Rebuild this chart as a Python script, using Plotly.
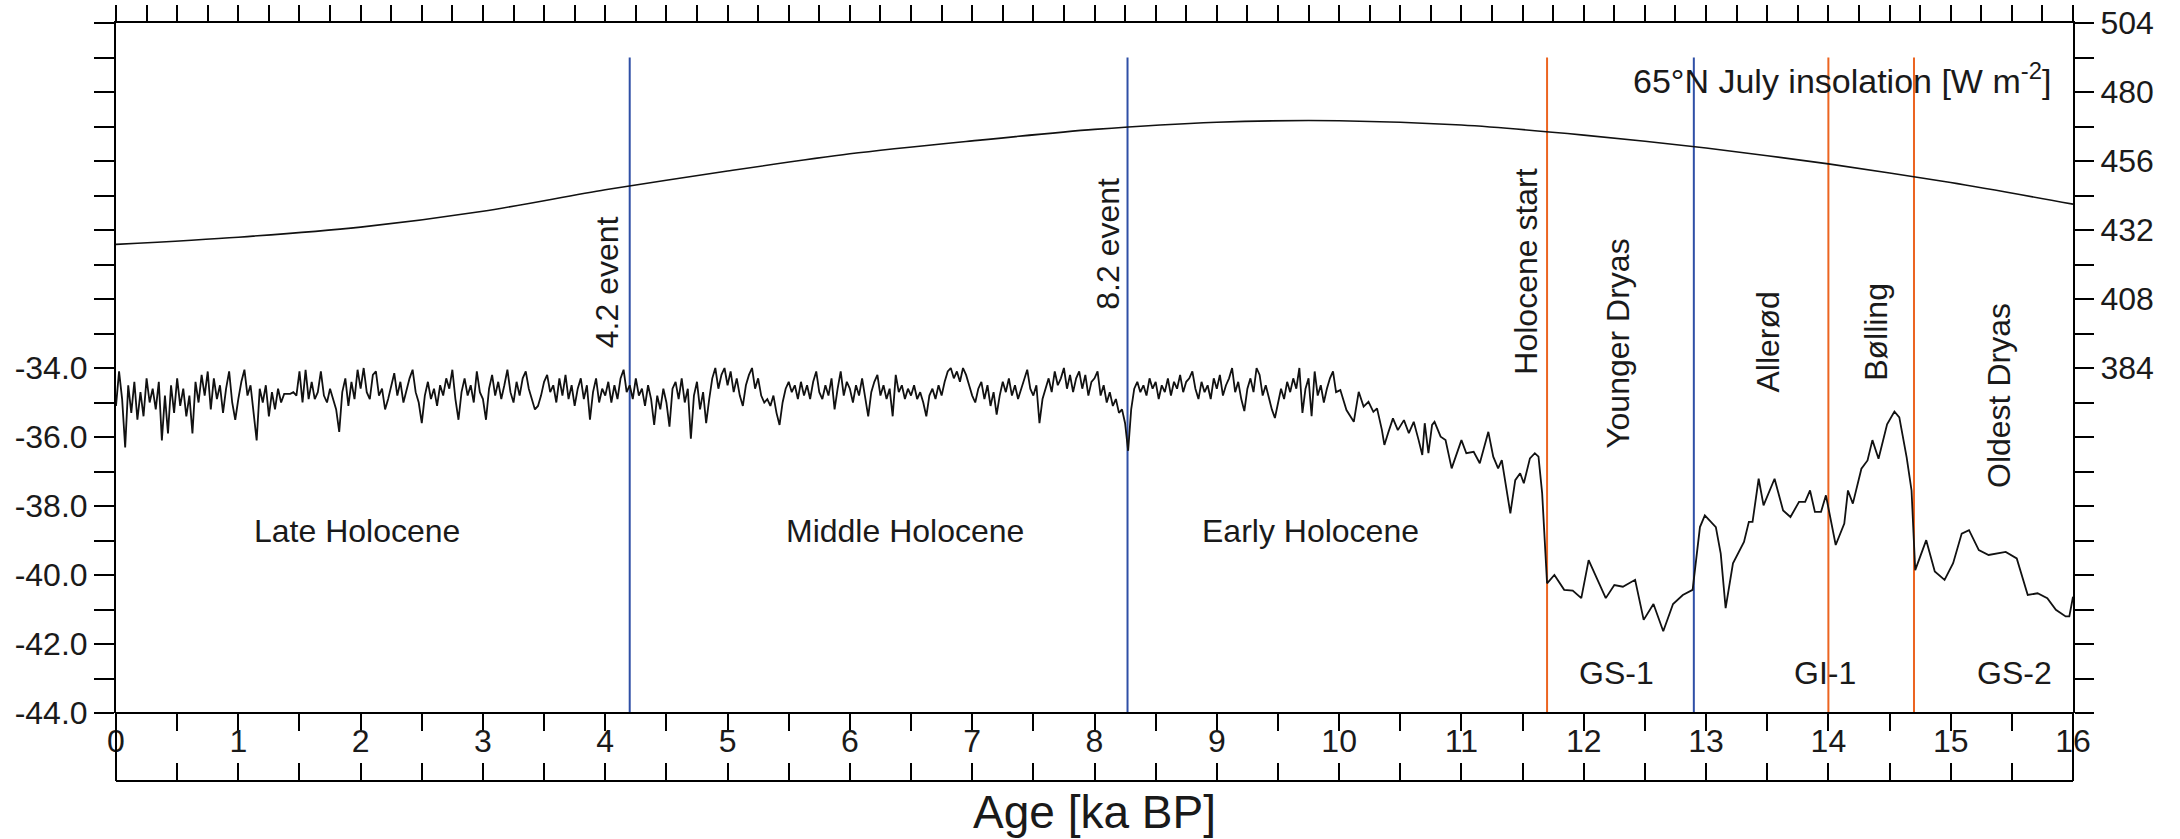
import plotly.graph_objects as go

# ---------------- data ----------------
# High-resolution Holocene d18O record, 0 - 9.975 ka BP, sampled every 25 years
HOLO_START = 0.0
HOLO_STEP = 0.025
holo_d18o = [
    # 0 - 1 ka
    -35.1, -34.1, -34.9, -36.3, -34.5, -35.3, -34.4, -35.5, -34.7, -35.4,
    -34.3, -35.0, -34.6, -35.2, -34.4, -36.1, -34.8, -35.9, -34.5, -35.3,
    -34.3, -35.1, -34.6, -35.4, -34.8, -35.9, -34.4, -35.0, -34.2, -34.8,
    -34.1, -35.2, -34.3, -34.9, -34.5, -35.3, -34.6, -34.1, -35.0, -35.5,
    # 1 - 2 ka
    -34.9, -34.4, -34.05, -34.8, -34.5, -35.3, -36.1, -34.6, -35.0, -34.5,
    -35.4, -34.7, -35.2, -34.6, -35.0, -34.75, -34.75, -34.75, -34.7, -34.8,
    -34.1, -35.0, -34.05, -34.9, -34.4, -34.9, -34.7, -34.1, -34.8, -35.0,
    -34.6, -34.9, -35.2, -35.85, -34.7, -34.3, -35.1, -34.4, -34.9, -34.05,
    # 2 - 3 ka
    -34.6, -34.0, -34.7, -34.9, -34.2, -34.1, -34.8, -34.6, -35.2, -34.9,
    -34.5, -34.15, -34.8, -34.4, -35.0, -34.6, -34.3, -34.05, -34.7, -35.0,
    -35.6, -34.8, -34.4, -34.9, -34.6, -35.1, -34.5, -34.8, -34.3, -34.6,
    -34.05, -34.9, -35.5, -34.7, -34.3, -34.8, -34.5, -35.0, -34.1, -34.7,
    # 3 - 4 ka
    -34.9, -35.5, -34.6, -34.2, -34.8, -34.4, -34.9, -34.5, -34.05, -34.7,
    -35.0, -34.4, -34.8, -34.3, -34.1, -34.6, -34.9, -35.2, -35.1, -34.8,
    -34.4, -34.2, -34.7, -34.5, -35.0, -34.3, -34.8, -34.2, -34.9, -34.5,
    -35.1, -34.6, -34.3, -34.9, -34.5, -35.5, -34.7, -34.3, -35.0, -34.6,
    # 4 - 5 ka
    -34.8, -34.4, -35.0, -34.5, -34.9, -34.3, -34.05, -34.7, -34.5, -34.9,
    -34.3, -34.8, -34.6, -35.1, -34.5, -34.9, -35.65, -34.8, -35.2, -34.6,
    -35.0, -35.7, -34.6, -34.4, -34.9, -34.3, -35.0, -34.6, -36.05, -34.8,
    -34.4, -35.2, -34.7, -35.6, -34.9, -34.3, -34.0, -34.6, -34.2, -34.0,
    # 5 - 6 ka
    -34.5, -34.1, -34.7, -34.3, -34.8, -35.1, -34.5, -34.2, -34.0, -34.6,
    -34.3, -34.8, -35.0, -34.9, -35.1, -34.8, -35.3, -35.65, -35.0, -34.6,
    -34.4, -34.7, -34.5, -34.9, -34.4, -34.8, -34.5, -34.9, -34.4, -34.1,
    -34.7, -34.9, -34.5, -34.8, -34.3, -35.2, -34.6, -34.1, -34.8, -34.4,
    # 6 - 7 ka
    -34.6, -35.0, -34.5, -34.8, -34.3, -34.9, -35.4, -34.7, -34.4, -34.2,
    -34.8, -34.5, -34.9, -34.6, -35.4, -34.2, -34.7, -34.5, -34.9, -34.6,
    -34.8, -34.5, -34.9, -34.7, -35.0, -35.4, -34.8, -34.6, -34.9, -34.5,
    -34.8, -34.4, -34.1, -34.0, -34.3, -34.1, -34.4, -34.0, -34.2, -34.5,
    # 7 - 8 ka
    -34.8, -35.0, -34.6, -34.4, -34.9, -34.5, -35.1, -34.7, -35.35, -34.8,
    -34.4, -34.7, -34.3, -34.8, -34.5, -34.9, -34.6, -34.3, -34.05, -34.6,
    -34.8, -34.5, -35.6, -34.9, -34.6, -34.3, -34.7, -34.1, -34.5, -34.3,
    -34.0, -34.6, -34.2, -34.7, -34.3, -34.1, -34.6, -34.2, -34.8, -34.4,
    # 8 - 9 ka
    -34.3, -34.1, -34.8, -34.5, -35.0, -34.7, -35.1, -34.9, -35.3, -35.2,
    -35.6, -36.4, -35.2, -34.6, -34.4, -34.7, -34.5, -34.8, -34.3, -34.6,
    -34.4, -34.9, -34.5, -34.7, -34.3, -34.8, -34.4, -34.6, -34.2, -34.7,
    -34.4, -34.3, -34.1, -34.6, -34.9, -34.4, -34.7, -34.5, -34.9, -34.3,
    # 9 - 10 ka
    -34.6, -34.2, -34.8, -34.5, -34.3, -34.0, -34.7, -34.4, -34.9, -35.25,
    -34.6, -34.3, -34.7, -34.0, -34.2, -34.8, -34.5, -34.9, -35.2, -35.45,
    -35.0, -34.6, -34.9, -34.4, -34.7, -34.3, -34.6, -34.0, -35.3, -34.6,
    -34.3, -35.4, -34.1, -34.8, -34.5, -35.0, -34.6, -34.3, -34.1, -34.7,
]
holo_age = [round(HOLO_START + i * HOLO_STEP, 3) for i in range(len(holo_d18o))]

# Early Holocene / deglacial d18O record, 10 - 16 ka BP
deg_age = [
    10.01, 10.06, 10.12, 10.16, 10.20, 10.24, 10.28, 10.31, 10.35, 10.37,
    10.40, 10.44, 10.48, 10.53, 10.57, 10.61, 10.65, 10.68, 10.70, 10.73,
    10.76, 10.78, 10.83, 10.87, 10.92, 10.96, 11.00, 11.04, 11.10, 11.15,
    11.22, 11.26, 11.30, 11.33, 11.37, 11.40, 11.44, 11.48, 11.51, 11.56,
    11.60, 11.63, 11.66, 11.70, 11.76, 11.84, 11.91, 11.98, 12.04, 12.11,
    12.18, 12.25, 12.32, 12.42, 12.49, 12.57, 12.65, 12.73, 12.81, 12.89,
    12.91, 12.95, 12.99, 13.08, 13.12, 13.16, 13.22, 13.31, 13.35, 13.38,
    13.43, 13.47, 13.56, 13.63, 13.69, 13.76, 13.81, 13.85, 13.89, 13.94,
    13.98, 14.06, 14.13, 14.16, 14.20, 14.27, 14.32, 14.36, 14.41, 14.48,
    14.54, 14.58, 14.64, 14.68, 14.71, 14.75, 14.80, 14.87, 14.95, 15.02,
    15.09, 15.15, 15.23, 15.31, 15.45, 15.54, 15.63, 15.71, 15.79, 15.86,
    15.94, 15.97, 16.00,
]
deg_d18o = [
    -34.64, -35.22, -35.56, -34.69, -35.12, -34.98, -35.27, -35.17, -35.80, -36.23,
    -35.89, -35.46, -35.80, -35.51, -35.89, -35.56, -36.09, -36.52, -35.60, -36.47,
    -35.65, -35.56, -35.99, -36.09, -36.91, -36.47, -36.09, -36.47, -36.43, -36.76,
    -35.85, -36.57, -36.91, -36.67, -37.54, -38.21, -37.25, -37.05, -37.34, -36.62,
    -36.47, -36.57, -37.63, -40.24, -40.00, -40.43, -40.45, -40.67, -39.57, -40.14,
    -40.67, -40.29, -40.34, -40.14, -41.30, -40.84, -41.63, -40.84, -40.58, -40.43,
    -39.76, -38.61, -38.27, -38.61, -39.38, -40.96, -39.66, -39.04, -38.46, -38.46,
    -37.21, -37.98, -37.21, -38.13, -38.32, -37.88, -37.88, -37.55, -38.17, -38.17,
    -37.69, -39.13, -38.51, -37.55, -37.93, -36.92, -36.68, -36.09, -36.63, -35.63,
    -35.26, -35.43, -36.59, -37.55, -39.86, -39.47, -38.99, -39.90, -40.14, -39.66,
    -38.80, -38.70, -39.28, -39.42, -39.33, -39.52, -40.58, -40.53, -40.67, -41.01,
    -41.20, -41.20, -40.63,
]

# 65N July insolation [W m-2]
ins_age = [0, 1, 2, 3, 4, 5, 6, 7, 8, 9, 10, 11, 12, 13, 14, 15, 16]
ins_val = [427, 429.5, 433, 438.5, 446, 452.5, 458.5, 463, 467, 469.5, 470, 468.5, 465, 460.5, 455, 448.5, 441]

# event / boundary lines (ka BP)
blue_lines = [4.2, 8.27, 12.9]
orange_lines = [11.7, 14.0, 14.7]
LINE_TOP = -25.0
LINE_BOTTOM = -44.0

# labels
period_labels = ["Late Holocene", "Middle Holocene", "Early Holocene"]
period_x = [1.97, 6.45, 9.77]
period_y = [-38.72, -38.72, -38.72]

gs_labels = ["GS-1", "GI-1", "GS-2"]
gs_x = [12.27, 13.97, 15.52]
gs_y = [-42.84, -42.84, -42.84]

rot_labels = ["4.2 event", "8.2 event", "Holocene start", "Younger Dryas", "Allerød", "Bølling", "Oldest Dryas"]
rot_x = [4.01, 8.11, 11.53, 12.28, 13.51, 14.39, 15.39]
rot_y = [-31.5, -30.4, -31.2, -33.3, -33.25, -32.95, -34.8]

x_major = list(range(0, 17))
left_major = [-44, -42, -40, -38, -36, -34]
left_text = ["-44.0", "-42.0", "-40.0", "-38.0", "-36.0", "-34.0"]
right_major = [384, 408, 432, 456, 480, 504]

# ---------------- figure ----------------
FONT = "Liberation Sans, Arial, Helvetica, sans-serif"
BLUE = "#2f4fa6"
ORANGE = "#ec6420"
W, H = 2180, 839
L, R, T, B = 116, 107, 23, 58
plot_h = H - T - B
D = (781 - 713) / plot_h  # bottom strip fraction

fig = go.Figure()

for xv in blue_lines:
    fig.add_trace(go.Scatter(x=[xv, xv], y=[LINE_BOTTOM, LINE_TOP], mode="lines",
                             line=dict(color=BLUE, width=2), showlegend=False, hoverinfo="skip"))
for xv in orange_lines:
    fig.add_trace(go.Scatter(x=[xv, xv], y=[LINE_BOTTOM, LINE_TOP], mode="lines",
                             line=dict(color=ORANGE, width=2), showlegend=False, hoverinfo="skip"))

fig.add_trace(go.Scatter(x=holo_age + deg_age, y=holo_d18o + deg_d18o, mode="lines",
                         line=dict(color="#111111", width=1.8), showlegend=False))

fig.add_trace(go.Scatter(x=ins_age, y=ins_val, mode="lines", yaxis="y2",
                         line=dict(color="#111111", width=1.6, shape="spline", smoothing=0.8),
                         showlegend=False))

# helper traces so that the extra axes are drawn
fig.add_trace(go.Scatter(x=[0, 16], y=[None, None], xaxis="x2", yaxis="y", mode="lines",
                         showlegend=False, hoverinfo="skip"))
fig.add_trace(go.Scatter(x=[0, 16], y=[None, None], xaxis="x3", yaxis="y", mode="lines",
                         showlegend=False, hoverinfo="skip"))

axis_common = dict(showgrid=False, zeroline=False, showline=True, linecolor="black",
                   linewidth=2, tickcolor="black", tickwidth=2, automargin=False)

fig.update_layout(
    template="none",
    width=W, height=H,
    margin=dict(l=L, r=R, t=T, b=B, pad=0, autoexpand=False),
    paper_bgcolor="white", plot_bgcolor="white",
    font=dict(family=FONT, size=32, color="#1a1a1a"),
    showlegend=False,
    xaxis=dict(range=[0, 16], domain=[0, 1], anchor="free", position=D,
               tickmode="array", tickvals=x_major, ticktext=[str(v) for v in x_major],
               ticks="outside", ticklen=17, tickfont=dict(size=32), ticklabelstandoff=-17,
               minor=dict(tickmode="linear", tick0=0, dtick=0.5, ticks="outside",
                          ticklen=17, tickwidth=2, tickcolor="black", showgrid=False),
               **axis_common),
    xaxis2=dict(range=[0, 16], overlaying="x", side="top", anchor="y",
                tickmode="linear", tick0=0, dtick=0.25, showticklabels=False,
                ticks="outside", ticklen=16, **axis_common),
    xaxis3=dict(range=[0, 16], overlaying="x", anchor="free", position=0,
                tickmode="linear", tick0=0, dtick=0.5, showticklabels=False,
                ticks="inside", ticklen=17, **axis_common),
    yaxis=dict(range=[-44, -24], domain=[D, 1], anchor="x",
               tickmode="array", tickvals=left_major, ticktext=left_text,
               ticks="outside", ticklen=20, tickfont=dict(size=32),
               minor=dict(tickmode="linear", tick0=0, dtick=1, ticks="outside",
                          ticklen=20, tickwidth=2, tickcolor="black", showgrid=False),
               **axis_common),
    yaxis2=dict(range=[264, 504], overlaying="y", side="right", anchor="x",
                tickmode="array", tickvals=right_major, ticktext=[str(v) for v in right_major],
                ticks="outside", ticklen=19, tickfont=dict(size=32),
                minor=dict(tickmode="linear", tick0=0, dtick=12, ticks="outside",
                           ticklen=19, tickwidth=2, tickcolor="black", showgrid=False),
                **axis_common),
)

# bottom strip frame edges
fig.add_shape(type="line", xref="paper", yref="paper", x0=0, x1=0, y0=0, y1=D,
              line=dict(color="black", width=2))
fig.add_shape(type="line", xref="paper", yref="paper", x0=1, x1=1, y0=0, y1=D,
              line=dict(color="black", width=2))

for t, xv, yv in zip(period_labels, period_x, period_y):
    fig.add_annotation(x=xv, y=yv, xref="x", yref="y", text=t, showarrow=False,
                       font=dict(size=32))
for t, xv, yv in zip(gs_labels, gs_x, gs_y):
    fig.add_annotation(x=xv, y=yv, xref="x", yref="y", text=t, showarrow=False,
                       font=dict(size=32))
for t, xv, yv in zip(rot_labels, rot_x, rot_y):
    fig.add_annotation(x=xv, y=yv, xref="x", yref="y", text=t, showarrow=False,
                       textangle=-90, font=dict(size=32))

fig.add_annotation(x=15.84, y=-25.62, xref="x", yref="y", xanchor="right",
                   text="65°N July insolation [W m<sup>-2</sup>]", showarrow=False,
                   font=dict(size=34))

fig.add_annotation(x=0.5, y=-(812 - 781) / plot_h, xref="paper", yref="paper",
                   yanchor="middle", text="Age [ka BP]", showarrow=False,
                   font=dict(size=46))

fig.write_html("out.html",
               config={"displayModeBar": False},
               post_script="document.body.style.margin='0px';document.body.style.overflow='hidden';")
